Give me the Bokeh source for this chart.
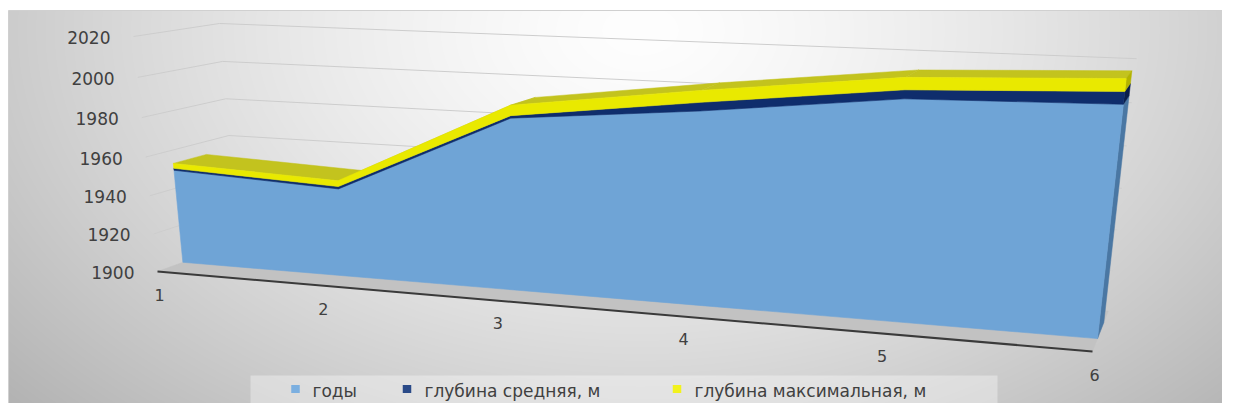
import numpy as np
from bokeh.plotting import figure
from bokeh.models import Range1d
from bokeh.embed import file_html
from bokeh.resources import INLINE
from bokeh.core.properties import value

# ---------------- data ----------------
categories = ["1", "2", "3", "4", "5", "6"]
years = [1949.5, 1945.5, 1986, 1994, 2004, 2006]
depth_mean = [1.0, 1.2, 1.2, 4.0, 4.0, 5.5]
depth_max = [2.6, 3.0, 5.0, 5.5, 5.5, 5.5]
series_names = ["годы", "глубина средняя, м", "глубина максимальная, м"]
y_ticks = [1900, 1920, 1940, 1960, 1980, 2000, 2020]

# ---------------- layout / style ----------------
W, H = 1222, 403
V_MIN, V_MAX = 1900, 2020
NCAT = len(categories) - 1
FONT = value("DejaVu Sans")
TXT = "#404040"

# camera calibration (screen position of the front corners of the 3D box)
FRONT_SRC = [(0, V_MIN), (NCAT, V_MIN), (0, V_MAX), (NCAT, V_MAX)]
FRONT_DST = [(157, 271), (1092, 351), (133, 36), (1122, 77)]
DEPTH_VP = (1283.0, -138.0)
BACK_TOP_LEFT_X = 219.0
Z_FRONT, Z_BACK = 0.3, 0.7


def vn(v):
    return (v - V_MIN) / 20.0


def fit_h(src, dst):
    A, b = [], []
    for (x, y), (u, w) in zip(src, dst):
        A.append([x, y, 1, 0, 0, 0, -u * x, -u * y]); b.append(u)
        A.append([0, 0, 0, x, y, 1, -w * x, -w * y]); b.append(w)
    h = np.linalg.solve(np.array(A, float), np.array(b, float))
    return np.append(h, 1.0).reshape(3, 3)


HM = fit_h([(x, vn(v)) for x, v in FRONT_SRC], FRONT_DST)
VPH = np.array([DEPTH_VP[0], DEPTH_VP[1], 1.0])
_f = HM @ np.array([0.0, vn(V_MAX), 1.0])
_fx = _f[0] / _f[2]
_s = (BACK_TOP_LEFT_X - _fx) / (DEPTH_VP[0] - _fx)
LAM = _s * _f[2] / (1 - _s)


def proj(x, v, z):
    h = HM @ np.array([x, vn(v), 1.0]) + LAM * z * VPH
    return h[0] / h[2], h[1] / h[2]


def poly(pts):
    return [q[0] for q in pts], [-q[1] for q in pts]


p = figure(width=W, height=H, x_range=Range1d(0, W), y_range=Range1d(-H, 0),
           output_backend="svg", toolbar_location=None, min_border=0)
p.axis.visible = False
p.grid.visible = False
p.outline_line_color = None
p.background_fill_color = "white"
p.border_fill_color = "white"

# ---------------- background gradient ----------------
left_px, top_px = 8, 10
ww = W - left_px
hh = H - top_px
xs_g = np.arange(left_px, W) + 0.5
ys_g = np.arange(top_px, H) + 0.5
GX, GY = np.meshgrid(xs_g, ys_g)
d = np.sqrt(((GX - 640) / 650.0) ** 2 + ((GY - 30) / 430.0) ** 2)
val = np.clip(254 - 52 * np.clip(d, 0, 1.4) ** 1.4, 0, 255).astype(np.uint8)
img = np.empty((hh, ww), dtype=np.uint32)
view = img.view(dtype=np.uint8).reshape((hh, ww, 4))
view[..., 0] = val
view[..., 1] = val
view[..., 2] = val
view[..., 3] = 255
img = img[::-1]
p.image_rgba(image=[img], x=left_px, y=-H, dw=ww, dh=hh)
p.quad(left=left_px, right=W + 2, top=-top_px, bottom=-(H + 2), fill_alpha=0,
       line_color="#d0d0d0", line_width=1)

# ---------------- floor ----------------
fl = [proj(0, V_MIN, 0), proj(NCAT, V_MIN, 0), proj(NCAT, V_MIN, 1), proj(0, V_MIN, 1)]
fx, fy = poly(fl)
p.patch(fx, fy, fill_color="#c2c2c2", line_color="#c2c2c2", line_width=0.5)

# ---------------- gridlines (walls) ----------------
gx, gy = [], []
for t in y_ticks[1:]:
    a = proj(0, t, 0); b = proj(0, t, 1); c = proj(NCAT, t, 1)
    gx.append([a[0], b[0], c[0]]); gy.append([-a[1], -b[1], -c[1]])
p.multi_line(gx, gy, line_color="#cdcdcd", line_width=1)

# front axis line of the floor
a = proj(0, V_MIN, 0); b = proj(NCAT, V_MIN, 0)
p.line([a[0], b[0]], [-a[1], -b[1]], line_color="#3a3a3a", line_width=2)

# ---------------- stacked 3D area ----------------
l0 = [V_MIN] * len(years)
l1 = list(years)
l2 = [a + b for a, b in zip(l1, depth_mean)]
l3 = [a + b for a, b in zip(l2, depth_max)]
layers = [
    (l0, l1, "#6FA4D6", "#4A77A3"),
    (l1, l2, "#0F2D6C", "#0A1E4A"),
    (l2, l3, "#E9E900", "#B3B300"),
]
n = len(categories)

# top faces of the top layer
txs, tys = [], []
for i in range(n - 1):
    q = [proj(i, l3[i], Z_FRONT), proj(i + 1, l3[i + 1], Z_FRONT),
         proj(i + 1, l3[i + 1], Z_BACK), proj(i, l3[i], Z_BACK)]
    qx, qy = poly(q); txs.append(qx); tys.append(qy)
p.patches(txs, tys, fill_color="#C3C31E", line_color="#C3C31E", line_width=0.5)

# right end caps
for bot, top, fc, cc in layers:
    q = [proj(NCAT, bot[-1], Z_FRONT), proj(NCAT, top[-1], Z_FRONT),
         proj(NCAT, top[-1], Z_BACK), proj(NCAT, bot[-1], Z_BACK)]
    qx, qy = poly(q)
    p.patch(qx, qy, fill_color=cc, line_color=cc, line_width=0.5)

# front faces
for bot, top, fc, cc in layers:
    pts = [proj(i, top[i], Z_FRONT) for i in range(n)] + [proj(i, bot[i], Z_FRONT) for i in reversed(range(n))]
    qx, qy = poly(pts)
    p.patch(qx, qy, fill_color=fc, line_color=fc, line_width=0.6)

# ---------------- axis labels ----------------
lx, ly = [], []
for t in y_ticks:
    a = proj(0, t, 0)
    lx.append(a[0] - 23); ly.append(-(a[1] + 1))
p.text(lx, ly, text=[str(t) for t in y_ticks], text_font=FONT, text_font_size="17px",
       text_align="right", text_baseline="middle", text_color=TXT)

cx, cy = [], []
for i in range(n):
    a = proj(i, V_MIN, 0)
    cx.append(a[0] + 2); cy.append(-(a[1] + 23))
p.text(cx, cy, text=categories, text_font=FONT, text_font_size="16px",
       text_align="center", text_baseline="middle", text_color=TXT)

# ---------------- legend ----------------
p.quad(left=250, right=997, top=-375, bottom=-403, fill_color="white", fill_alpha=0.35, line_alpha=0)
leg_sq_x = [295, 406.5, 676.5]
leg_tx_x = [312, 424, 694]
leg_cols = ["#7BAFE0", "#2A4A88", "#F2F21E"]
p.rect(x=leg_sq_x, y=[-388.5] * 3, width=8.5, height=8, fill_color=leg_cols, line_alpha=0)
p.text(leg_tx_x, [-390] * 3, text=series_names, text_font=FONT, text_font_size="17px",
       text_align="left", text_baseline="middle", text_color=TXT)

open("out.html", "w").write(file_html(p, INLINE))
